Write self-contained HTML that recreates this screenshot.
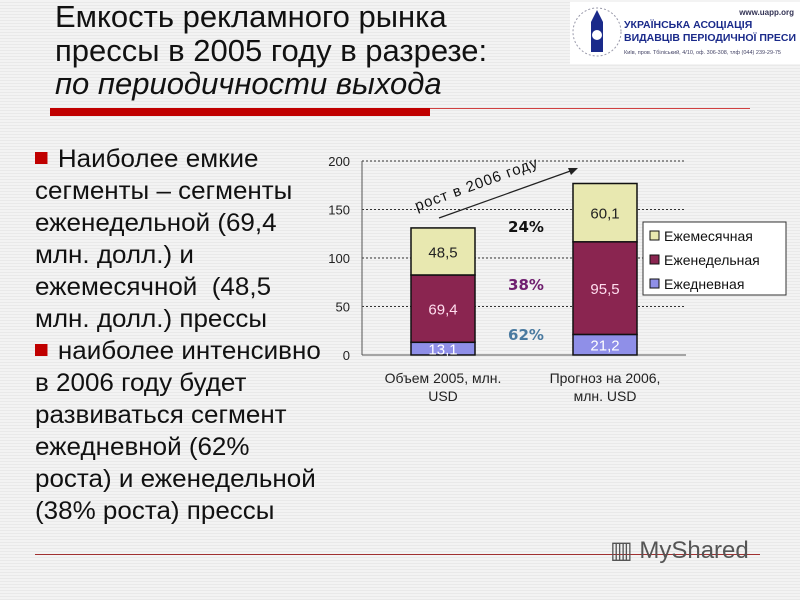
<!DOCTYPE html>
<html><head><meta charset="utf-8"><style>
body{margin:0;width:800px;height:600px;overflow:hidden;background:#f1f1f1;background-image:repeating-linear-gradient(#f3f3f3 0 2px,#e9e9e9 2px 3px);font-family:"Liberation Sans","DejaVu Sans",sans-serif;position:relative}
.t{position:absolute;left:55px;font-size:31px;color:#111;line-height:33px;white-space:nowrap}
.b{position:absolute;left:35px;top:143px;font-size:25px;line-height:32px;color:#111;white-space:nowrap;transform:scaleX(1.04);transform-origin:0 0}
.b p{margin:0}
.sq{display:inline-block;width:12px;height:12px;background:#c00000;margin-right:10px;vertical-align:3px}
</style></head><body>
<div class="t" style="top:0">Емкость рекламного рынка</div>
<div class="t" style="top:34px">прессы в 2005 году в разрезе:</div>
<div class="t" style="top:67px;font-style:italic">по периодичности выхода</div>
<div style="position:absolute;left:50px;top:108px;width:380px;height:8px;background:#c00000"></div>
<div style="position:absolute;left:430px;top:108px;width:320px;height:1px;background:#d04040"></div>
<div style="position:absolute;left:570px;top:2px;width:230px;height:62px;background:#fff">
<svg width="50" height="60" style="position:absolute;left:2px;top:0"><circle cx="25" cy="30" r="24" fill="none" stroke="#99a" stroke-dasharray="2 2"/><path d="M25 8 L31 20 L31 50 L19 50 L19 20Z" fill="#1a2a8a"/><circle cx="25" cy="33" r="5" fill="#fff"/></svg>
<div style="position:absolute;right:6px;top:6px;font-size:8px;font-weight:bold;color:#335">www.uapp.org</div>
<div style="position:absolute;left:54px;top:17px;font-size:10.5px;font-weight:bold;color:#1a2a8a;line-height:13px;white-space:nowrap">УКРАЇНСЬКА АСОЦІАЦІЯ<br>ВИДАВЦІВ ПЕРІОДИЧНОЇ ПРЕСИ</div>
<div style="position:absolute;left:54px;top:48px;font-size:5.5px;color:#446;white-space:nowrap">Київ, пров. Тбіліський, 4/10, оф. 306-308, тлф (044) 239-29-75</div>
</div>
<div class="b">
<p><span class="sq"></span>Наиболее емкие<br>сегменты – сегменты<br>еженедельной (69,4<br>млн. долл.) и<br>ежемесячной&nbsp; (48,5<br>млн. долл.) прессы</p>
<p><span class="sq"></span>наиболее интенсивно<br>в 2006 году будет<br>развиваться сегмент<br>ежедневной (62%<br>роста) и еженедельной<br>(38% роста) прессы</p>
</div>
<svg id="c" width="800" height="600" style="position:absolute;left:0;top:0"></svg>
<div style="position:absolute;left:35px;top:554px;width:725px;height:1px;background:#a03030"></div>
<div style="position:absolute;left:610px;top:536px;font-size:24px;color:#555">▥ MyShared</div>
<script>
const categories=["Объем 2005, млн.|USD","Прогноз на 2006,|млн. USD"];
const daily=[13.1,21.2];
const weekly=[69.4,95.5];
const monthly=[48.5,60.1];
const ticks=[0,50,100,150,200];
const seriesNames=["Ежемесячная","Еженедельная","Ежедневная"];
const growth=["24%","38%","62%"];
const NS="http://www.w3.org/2000/svg",svg=document.getElementById('c');
function el(t,a,txt){const e=document.createElementNS(NS,t);for(const k in a)e.setAttribute(k,a[k]);if(txt!=null)e.textContent=txt;svg.appendChild(e);return e;}
const x0=362,x1=686,y0=355,y200=161;
const Y=v=>y0-(v/200)*(y0-y200);
const X=i=>x0+(i+0.5)*(x1-x0)/categories.length;
ticks.forEach(t=>{
if(t>0){const g=el('line',{x1:x0,x2:x1,y1:Y(t),y2:Y(t),stroke:'#333','stroke-dasharray':'2 2','stroke-width':1});}
const l=el('text',{x:350,y:Y(t)+5,'text-anchor':'end','font-size':13,fill:'#222'},t);
});
el('line',{x1:x0,x2:x0,y1:Y(200),y2:y0,stroke:'#555'});
el('line',{x1:x0,x2:x1,y1:y0,y2:y0,stroke:'#555'});
const cols=[["#e8e8b0","#222"],["#8a2550","#fde"],["#8f8fe8","#fff"]];
const bw=64;
categories.forEach((c,i)=>{
const segs=[[daily[i],2],[weekly[i],1],[monthly[i],0]];let base=0;
segs.forEach(([v,k])=>{const r=el('rect',{x:X(i)-bw/2,y:Y(base+v),width:bw,height:Y(base)-Y(base+v),fill:cols[k][0],stroke:'#111','stroke-width':1.5});

const tx=el('text',{x:X(i),y:(Y(base)+Y(base+v))/2+6,'text-anchor':'middle','font-size':15,fill:cols[k][1]},String(v).replace('.',','));
base+=v;});
c.split('|').forEach((s,j)=>{const t=el('text',{x:X(i),y:383+j*18,'text-anchor':'middle','font-size':14,fill:'#222'},s);});
});
const gc=["#111","#702070","#4a7aa0"],gy=[232,290,340];
growth.forEach((g,k)=>{const t=el('text',{x:526,y:gy[k],'text-anchor':'middle','font-size':15,'font-weight':'bold',fill:gc[k],'font-family':'DejaVu Sans'},g);});
const ar=el('line',{x1:439,y1:218,x2:576,y2:169,stroke:'#222','stroke-width':1.2});
el('polygon',{points:'578,168 568,168 571,175',fill:'#222'});
const at=el('text',{x:0,y:0,'font-size':15,fill:'#111',transform:'translate(417,211) rotate(-20)','letter-spacing':'1'},'рост в 2006 году');
const lg=el('rect',{x:643,y:222,width:143,height:73,fill:'#fff',stroke:'#333'});
seriesNames.forEach((n,k)=>{el('rect',{x:650,y:231+k*24,width:9,height:9,fill:cols[k][0],stroke:'#111'});
const t=el('text',{x:664,y:241+k*24,'font-size':14,fill:'#111'},n);});
</script>
</body></html>
